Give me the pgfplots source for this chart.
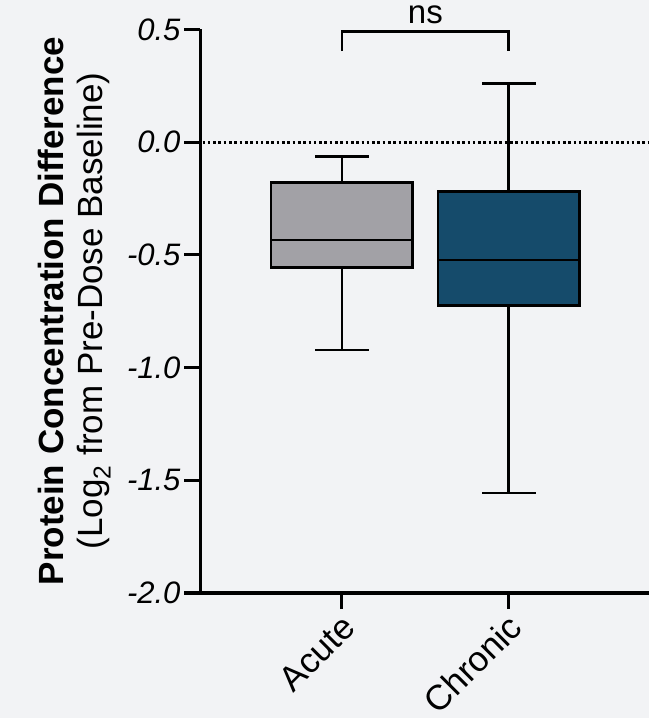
\documentclass[border=0pt]{standalone}
\usepackage{pgfplots}
\pgfplotsset{compat=1.18}
\usepgfplotslibrary{statistics}
\usepackage{fontspec}
\setmainfont{Liberation Sans}
\definecolor{bgc}{HTML}{F2F3F5}
\definecolor{acute}{HTML}{A2A1A6}
\definecolor{chronic}{HTML}{154B6B}
\begin{document}
\begin{tikzpicture}
\path[fill=bgc, use as bounding box] (0,0) rectangle (649bp,718bp);
\begin{axis}[
  at={(200bp,125bp)}, anchor=south west,
  scale only axis, width=449bp, height=563.5bp,
  xmin=0.15, xmax=2.84, ymin=-2, ymax=0.5,
  axis x line*=bottom, axis y line*=left,
  axis line style={line width=3bp, -},
  clip=false,
  xtick={1,2}, xticklabels={Acute,Chronic},
  ytick={-2,-1.5,-1,-0.5,0,0.5},
  yticklabels={-2.0,-1.5,-1.0,-0.5,0.0,0.5},
  tick align=outside, major tick length=16bp,
  tick style={line width=3bp, black},
  yticklabel style={font=\fontsize{31bp}{36bp}\selectfont\itshape},
  xticklabel style={font=\fontsize{35bp}{40bp}\selectfont, xshift=9bp, yshift=-10bp, rotate=45, anchor=east},
  boxplot/draw direction=y,
  boxplot/every whisker/.style={line width=2.7bp, draw=black},
  boxplot/every median/.style={line width=2.7bp, draw=black},
  boxplot/every box/.style={line width=2.7bp, draw=black},
]
\addplot[black, line width=2.8bp, dash pattern=on 2.6bp off 2.7bp] coordinates {(0.165,0) (2.84,0)};
\addplot[boxplot prepared={draw position=1, lower whisker=-0.922, lower quartile=-0.556, median=-0.434, upper quartile=-0.180, upper whisker=-0.064, box extend=0.85, whisker extend=0.32}, fill=acute, draw=black, line width=2.7bp] coordinates {};
\addplot[boxplot prepared={draw position=2, lower whisker=-1.557, lower quartile=-0.725, median=-0.523, upper quartile=-0.219, upper whisker=0.261, box extend=0.85, whisker extend=0.32}, fill=chronic, draw=black, line width=2.7bp] coordinates {};
\addplot[black, line width=2.7bp] coordinates {(1,0.404) (1,0.4925) (2,0.4925) (2,0.404)};
\node[anchor=base, font=\fontsize{33bp}{38bp}\selectfont] at (axis cs:1.5,0.525) {ns};
\end{axis}
\node[rotate=90, anchor=base, align=center, font=\fontsize{35bp}{39bp}\selectfont] at (102bp,407bp) {\textbf{Protein Concentration Difference}\\(Log\textsubscript{2} from Pre-Dose Baseline)};
\end{tikzpicture}
\end{document}
